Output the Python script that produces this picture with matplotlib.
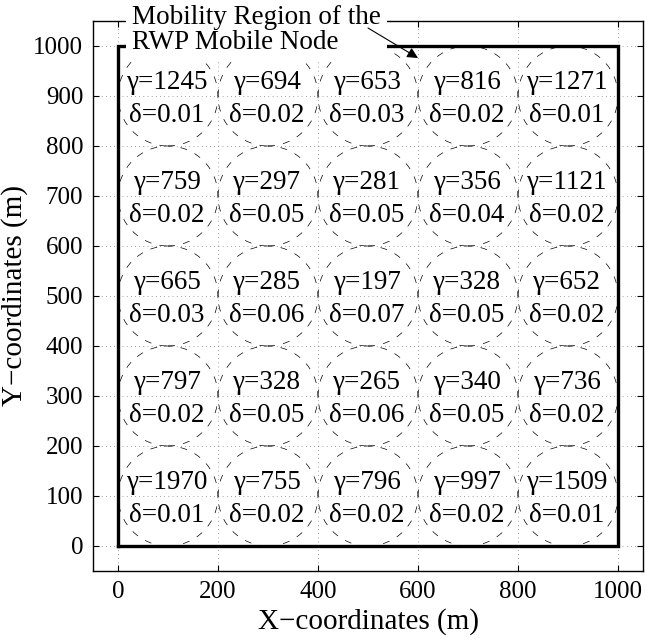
import numpy as np
import matplotlib
matplotlib.use("Agg")
import matplotlib.pyplot as plt
from matplotlib.patches import Circle

plt.rcParams['font.family'] = ['Liberation Serif', 'DejaVu Serif']
plt.rcParams['mathtext.fontset'] = 'stix'

# cell values, rows listed top (y=900) to bottom (y=100)
gamma_rows = [
    [1245, 694, 653, 816, 1271],
    [759, 297, 281, 356, 1121],
    [665, 285, 197, 328, 652],
    [797, 328, 265, 340, 736],
    [1970, 755, 796, 997, 1509],
]
delta_rows = [
    [0.01, 0.02, 0.03, 0.02, 0.01],
    [0.02, 0.05, 0.05, 0.04, 0.02],
    [0.03, 0.06, 0.07, 0.05, 0.02],
    [0.02, 0.05, 0.06, 0.05, 0.02],
    [0.01, 0.02, 0.02, 0.02, 0.01],
]
cell_size = 200
region_size = 1000
x_ticks = [0, 200, 400, 600, 800, 1000]
y_ticks = [0, 100, 200, 300, 400, 500, 600, 700, 800, 900, 1000]

fig = plt.figure(figsize=(6.45, 6.44), dpi=100)
ax = fig.add_axes([0.1442, 0.1134, 0.8527, 0.854])

n = len(gamma_rows)
for i in range(n):
    for j in range(n):
        cx = cell_size * j + cell_size / 2
        cy = region_size - (cell_size * i + cell_size / 2)
        ax.add_patch(Circle((cx, cy), cell_size / 2, fill=False, ec='k',
                            lw=0.5, ls=(0, (10, 12)), zorder=2))
        ax.text(cx - 3, cy + 14, "γ=%d" % gamma_rows[i][j], ha='center',
                va='baseline', fontsize=19.5, zorder=3)
        ax.text(cx - 3, cy - 52, "δ=%.2f" % delta_rows[i][j], ha='center',
                va='baseline', fontsize=19.5, zorder=3)

# mobility region boundary
ax.plot([0, region_size, region_size, 0, 0], [0, 0, region_size, region_size, 0],
        color='k', lw=2.4, solid_joinstyle='miter', zorder=4)

ax.set_xlim(-50, 1050)
ax.set_ylim(-50, 1050)
ax.set_xticks(x_ticks)
ax.set_yticks(y_ticks)
ax.grid(True, color='k', ls=(0, (1, 5)), lw=0.5, alpha=0.7)
ax.set_axisbelow(True)
ax.tick_params(direction='in', top=True, right=True, labelsize=18, length=4, pad=7)
for s in ax.spines.values():
    s.set_linewidth(1.0)

ax.set_xlabel("X\u2212coordinates (m)", fontsize=21, labelpad=4)
ax.set_ylabel("Y\u2212coordinates (m)", fontsize=21, labelpad=4)

ax.text(28, 1032, "Mobility Region of the\nRWP Mobile Node", ha='left', va='center',
        fontsize=19.5, linespacing=1.05, zorder=5, clip_on=False,
        bbox=dict(facecolor='white', edgecolor='none', pad=4))
ax.annotate('', xy=(600, 976), xytext=(500, 1036), annotation_clip=False,
            arrowprops=dict(arrowstyle='-|>', color='k', lw=0.8, mutation_scale=16,
                            shrinkA=0, shrinkB=0),
            zorder=6)

fig.savefig("out.png", dpi=100)
